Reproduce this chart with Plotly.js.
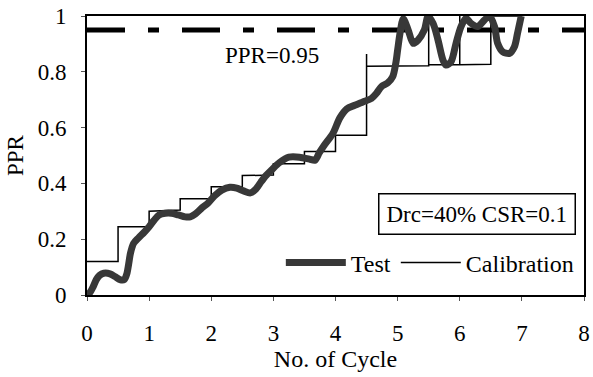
<!DOCTYPE html>
<html>
<head>
<meta charset="utf-8">
<script src="https://cdn.plot.ly/plotly-3.0.1.min.js"></script>
<style>html,body{margin:0;padding:0;background:#fff;}#chart{width:593px;height:377px;}</style>
</head>
<body>
<div id="chart"></div>
<script>
// Test (measured) PPR curve
var testCycle = [0, 0.05, 0.1, 0.15, 0.2, 0.27, 0.37, 0.45, 0.53, 0.6, 0.64, 0.67, 0.7, 0.75, 0.83, 0.92, 1.0, 1.08, 1.16, 1.26, 1.36, 1.47, 1.58, 1.66, 1.74, 1.84, 1.95, 2.05, 2.17, 2.3, 2.41, 2.52, 2.63, 2.72, 2.8, 2.88, 2.97, 3.1, 3.25, 3.42, 3.58, 3.67, 3.74, 3.83, 3.96, 4.07, 4.18, 4.31, 4.44, 4.58, 4.66, 4.74, 4.84, 4.92, 4.97, 5.0, 5.04, 5.09, 5.17, 5.25, 5.33, 5.43, 5.49, 5.57, 5.65, 5.73, 5.78, 5.86, 5.94, 6.02, 6.1, 6.18, 6.29, 6.4, 6.48, 6.56, 6.61, 6.69, 6.8, 6.88, 6.93, 6.99];
var testPPR = [0, 0.01, 0.03, 0.055, 0.07, 0.078, 0.076, 0.066, 0.055, 0.055, 0.075, 0.11, 0.15, 0.185, 0.205, 0.225, 0.245, 0.268, 0.287, 0.293, 0.293, 0.287, 0.28, 0.28, 0.29, 0.31, 0.33, 0.355, 0.376, 0.386, 0.383, 0.373, 0.366, 0.38, 0.405, 0.428, 0.448, 0.475, 0.494, 0.494, 0.487, 0.483, 0.51, 0.54, 0.58, 0.635, 0.667, 0.68, 0.692, 0.705, 0.723, 0.747, 0.76, 0.782, 0.83, 0.878, 0.94, 0.99, 0.95, 0.902, 0.914, 0.95, 0.998, 0.974, 0.914, 0.842, 0.824, 0.836, 0.902, 0.962, 0.992, 0.974, 0.962, 0.986, 1.0, 0.962, 0.902, 0.872, 0.866, 0.89, 0.938, 1.0];

// Calibration (model) step curve
var calCycle = [0, 0.5, 0.5, 1.0, 1.0, 1.5, 1.5, 2.0, 2.0, 2.5, 2.5, 3.0, 3.0, 3.5, 3.5, 4.0, 4.0, 4.5, 4.5, 4.5, 5.5, 5.5, 5.5, 6.0, 6.0, 6.0, 6.5, 6.5, 7.0];
var calPPR = [0.12, 0.12, 0.245, 0.245, 0.30, 0.305, 0.345, 0.345, 0.388, 0.388, 0.428, 0.43, 0.47, 0.47, 0.514, 0.514, 0.573, 0.573, 0.864, 0.82, 0.822, 1.0, 0.825, 0.825, 1.0, 0.825, 0.827, 1.0, 1.0];

// Threshold line
var thrCycle = [0, 8];
var thrPPR = [0.95, 0.95];

var xTicks = [0, 1, 2, 3, 4, 5, 6, 7, 8];
var yTicks = [0, 0.2, 0.4, 0.6, 0.8, 1];
var yTickText = ['0', '0.2', '0.4', '0.6', '0.8', '1'];

var FONT = 'Liberation Serif, Times New Roman, serif';

var traces = [
  {x: thrCycle, y: thrPPR, mode: 'lines', showlegend: false, hoverinfo: 'skip',
   line: {color: '#000', width: 5, dash: '38px,23px,11px,23px'}},
  {x: calCycle, y: calPPR, mode: 'lines', name: 'Calibration',
   line: {color: '#000', width: 1.5}},
  {x: testCycle, y: testPPR, mode: 'lines', name: 'Test',
   line: {color: '#383838', width: 7, shape: 'spline', smoothing: 0.8}}
];

var layout = {
  width: 593, height: 377,
  margin: {l: 87, r: 9, t: 16, b: 82},
  paper_bgcolor: '#fff', plot_bgcolor: '#fff',
  font: {family: FONT, size: 23, color: '#000'},
  showlegend: true,
  legend: {orientation: 'h', x: 0.39, y: 0.115, xanchor: 'left', yanchor: 'middle',
           traceorder: 'reversed', bgcolor: 'rgba(0,0,0,0)', itemwidth: 60,
           font: {family: FONT, size: 24, color: '#000'}},
  xaxis: {range: [0, 8], tickvals: xTicks, ticktext: xTicks.map(String),
          showgrid: false, zeroline: false, showline: true, linecolor: '#000', linewidth: 2,
          mirror: true, ticks: 'outside', ticklen: 4, tickcolor: '#555', tickwidth: 1,
          ticklabelstandoff: 12,
          title: {text: 'No. of Cycle', font: {family: FONT, size: 24}, standoff: 4}},
  yaxis: {range: [0, 1], tickvals: yTicks, ticktext: yTickText,
          showgrid: false, zeroline: false, showline: true, linecolor: '#000', linewidth: 2,
          mirror: true, ticks: 'outside', ticklen: 4, tickcolor: '#555', tickwidth: 1,
          ticklabelstandoff: 10,
          title: {text: 'PPR', font: {family: FONT, size: 23}, standoff: 8}},
  annotations: [
    {x: 2.97, y: 0.86, xref: 'x', yref: 'y', text: 'PPR=0.95', showarrow: false,
     xanchor: 'center', yanchor: 'middle',
     font: {family: FONT, size: 23, color: '#000'}},
    {x: 0.784, y: 0.291, xref: 'paper', yref: 'paper', text: 'Drc=40% CSR=0.1', showarrow: false,
     xanchor: 'center', yanchor: 'middle',
     font: {family: FONT, size: 23, color: '#000'}, bordercolor: '#000', borderwidth: 1.5,
     borderpad: 7, bgcolor: '#fff'}
  ]
};

Plotly.newPlot('chart', traces, layout, {staticPlot: true, displayModeBar: false});
</script>
</body>
</html>
